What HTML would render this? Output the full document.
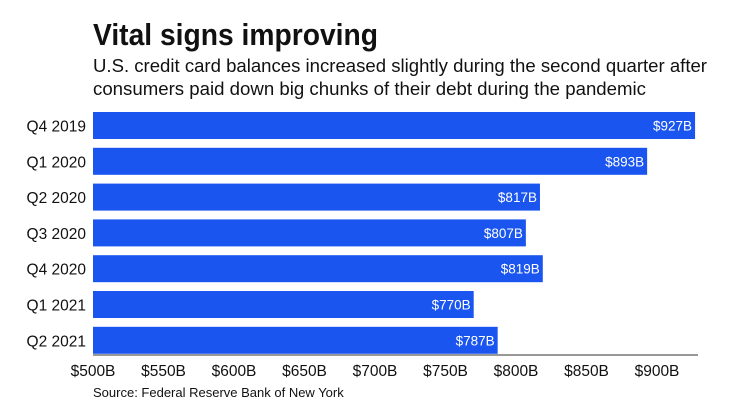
<!DOCTYPE html>
<html><head><meta charset="utf-8"><style>
body{margin:0;background:#fff;font-family:"Liberation Sans",sans-serif;}
svg{display:block}
</style></head><body>
<svg id="c" width="740" height="416" xmlns="http://www.w3.org/2000/svg">
<text x="93" y="45" font-size="31" font-weight="bold" fill="#111" textLength="285" lengthAdjust="spacingAndGlyphs">Vital signs improving</text>
<text x="93" y="72" font-size="18" fill="#111" textLength="614" lengthAdjust="spacingAndGlyphs">U.S. credit card balances increased slightly during the second quarter after</text>
<text x="93" y="95" font-size="18" fill="#111" textLength="553" lengthAdjust="spacingAndGlyphs">consumers paid down big chunks of their debt during the pandemic</text>
<g id="bars"></g>
<line x1="93" y1="355" x2="698" y2="355" stroke="#777" stroke-width="1.5"/>
<g id="ticks"></g>
<text x="93" y="397" font-size="13" fill="#111">Source: Federal Reserve Bank of New York</text>
</svg>
<script>
const categories=["Q4 2019","Q1 2020","Q2 2020","Q3 2020","Q4 2020","Q1 2021","Q2 2021"];
const values=[927,893,817,807,819,770,787];
const tickValues=[500,550,600,650,700,750,800,850,900];
const tickLabels=["$500B","$550B","$600B","$650B","$700B","$750B","$800B","$850B","$900B"];
const NS="http://www.w3.org/2000/svg";
const x=v=>93+(v-500)*1.41;
const y=i=>112+i*35.8;
const bh=27;
const bars=document.getElementById('bars');
categories.forEach((c,i)=>{
  const r=document.createElementNS(NS,'rect');
  r.setAttribute('x',x(500));r.setAttribute('y',y(i));
  r.setAttribute('width',x(values[i])-x(500));r.setAttribute('height',bh);
  r.setAttribute('fill','#1a55ef');
  
  
  bars.appendChild(r);
  const l=document.createElementNS(NS,'text');
  l.setAttribute('x',86);l.setAttribute('y',y(i)+bh/2+6);
  l.setAttribute('text-anchor','end');l.setAttribute('font-size','15.5');l.setAttribute('fill','#111');
  l.textContent=c;
  
  
  bars.appendChild(l);
  const v=document.createElementNS(NS,'text');
  v.setAttribute('x',x(values[i])-3);v.setAttribute('y',y(i)+bh/2+5);
  v.setAttribute('text-anchor','end');v.setAttribute('font-size','13.5');v.setAttribute('fill','#fff');
  v.textContent='$'+values[i]+'B';
  
  
  bars.appendChild(v);
});
const ticks=document.getElementById('ticks');
tickValues.forEach((t,i)=>{
  const l=document.createElementNS(NS,'text');
  l.setAttribute('x',x(t));l.setAttribute('y',376);
  l.setAttribute('text-anchor','middle');l.setAttribute('font-size','15.5');l.setAttribute('fill','#111');
  l.textContent=tickLabels[i];
  
  
  ticks.appendChild(l);
});
</script>
</body></html>
